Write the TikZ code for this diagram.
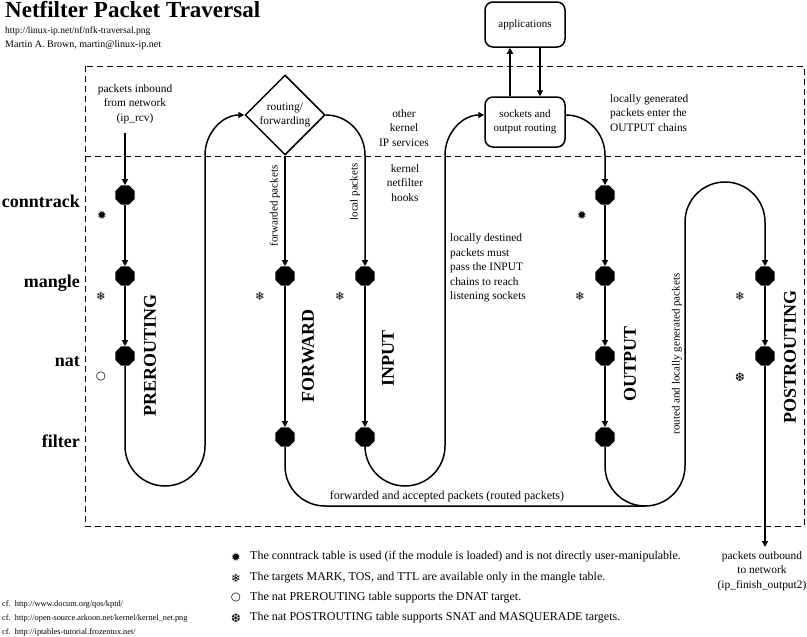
\documentclass[tikz,border=0pt]{standalone}
\usepackage{fontspec}
\setmainfont{Liberation Serif}
\newfontfamily\dingfont{DejaVu Sans}
\usetikzlibrary{shapes.geometric,arrows.meta}

\begin{document}
\begin{tikzpicture}[x=1pt,y=1pt]
    \tikzset{
      hook/.style={regular polygon, regular polygon sides=8, fill=black,
        minimum size=21pt, inner sep=0pt},
      pipe/.style={line width=1.5pt},
      flow/.style={pipe, -{Triangle[length=6pt,width=6pt]}},
      frame/.style={line width=0.9pt, dash pattern=on 6pt off 4pt},
      box/.style={draw, line width=1.5pt, rounded corners=8pt, minimum width=80pt,
        align=center, inner sep=0pt, font=\fontsize{11}{14.5}\selectfont},
      note/.style={align=center, inner sep=0pt, font=\fontsize{11.4}{14.5}\selectfont},
      sidenote/.style={note, align=left, anchor=west},
      tag/.style={rotate=90, inner sep=0pt, font=\fontsize{11}{11}\selectfont},
      chainname/.style={rotate=90, inner sep=0pt, font=\fontsize{18}{18}\selectfont\bfseries},
      tablename/.style={anchor=base east, inner sep=0pt, font=\fontsize{18}{18}\selectfont\bfseries},
      sym/.style={inner sep=0pt, font=\dingfont\fontsize{11.5}{11.5}\selectfont},
      legend/.style={anchor=west, inner sep=0pt, font=\fontsize{12}{12}\selectfont},
      cite/.style={anchor=west, inner sep=0pt, font=\fontsize{8.3}{8.3}\selectfont}
    }
    \useasboundingbox (0,0) rectangle (807,-637);
    %
    % header
    \node[anchor=base west, inner sep=0pt, font=\fontsize{23}{23}\selectfont\bfseries]
      (title) at (5,-17) {Netfilter Packet Traversal};
    \node[anchor=base west, inner sep=0pt, font=\fontsize{9.5}{10}\selectfont]
      (url) at (5,-33) {http://linux-ip.net/nf/nfk-traversal.png};
    \node[anchor=base west, inner sep=0pt, font=\fontsize{10}{10}\selectfont]
      (author) at (5,-47) {Martin A. Brown, martin@linux-ip.net};
    %
    % kernel area
    \draw[frame] (85,-66) rectangle (804,-526);
    \draw[frame] (85,-156) -- (804,-156);
    %
    % table names
    \node[tablename] (t-ct) at (80,-207) {conntrack};
    \node[tablename] (t-mg) at (80,-287) {mangle};
    \node[tablename] (t-nat) at (80,-366) {nat};
    \node[tablename] (t-flt) at (80,-447) {filter};
    %
    % hooks
    \node[hook] (pre-ct) at (125,-195) {};
    \node[hook] (pre-mg) at (125,-276) {};
    \node[hook] (pre-nat) at (125,-356) {};
    \node[hook] (fwd-mg) at (285,-276) {};
    \node[hook] (fwd-flt) at (285,-437) {};
    \node[hook] (in-mg) at (365,-276) {};
    \node[hook] (in-flt) at (365,-437) {};
    \node[hook] (out-ct) at (605,-195) {};
    \node[hook] (out-mg) at (605,-276) {};
    \node[hook] (out-nat) at (605,-356) {};
    \node[hook] (out-flt) at (605,-437) {};
    \node[hook] (post-mg) at (765,-276) {};
    \node[hook] (post-nat) at (765,-356) {};
    %
    % routing decision and sockets
    \node[diamond, draw, line width=1.5pt, minimum width=80pt, minimum height=80pt,
      inner sep=0pt, align=center, font=\fontsize{11.4}{14.5}\selectfont]
      (route) at (285,-115) {routing/\\forwarding};
    \node[box, minimum height=50pt] (sock) at (525,-122) {sockets and\\output routing};
    \node[box, minimum height=45pt] (apps) at (525,-24.5) {applications};
    %
    % chain names
    \node[chainname] (n-pre) at (150,-355) {PREROUTING};
    \node[chainname] (n-fwd) at (308,-356) {FORWARD};
    \node[chainname] (n-in) at (388,-358) {INPUT};
    \node[chainname] (n-out) at (630,-364) {OUTPUT};
    \node[chainname] (n-post) at (790,-357) {POSTROUTING};
    %
    % notes
    \node[note] (inbound) at (135,-104) {packets inbound\\from network\\(ip\_rcv)};
    \node[note] (other) at (404,-128) {other\\kernel\\IP services};
    \node[note] (hooks) at (405,-183) {kernel\\netfilter\\hooks};
    \node[sidenote] (destined) at (450,-268)
      {locally destined\\packets must\\pass the INPUT\\chains to reach\\listening sockets};
    \node[sidenote] (generated) at (610,-113)
      {locally generated\\packets enter the\\OUTPUT chains};
    \node[note, font=\fontsize{12}{12}\selectfont] (routed) at (447,-497)
      {forwarded and accepted packets (routed packets)};
    \node[note] (outbound) at (762,-571) {packets outbound\\to network\\(ip\_finish\_output2)};
    \node[tag] (fwd-tag) at (275,-206) {forwarded packets};
    \node[tag] (loc-tag) at (355,-192) {local packets};
    \node[tag] (gen-tag) at (677,-354) {routed and locally generated packets};
    %
    % table markers
    \node[sym] (s1) at (102,-215) {✹};
    \node[sym] (s2) at (101,-296) {❄};
    \node[sym] (s3) at (101,-377) {○};
    \node[sym] (s4) at (260,-296) {❄};
    \node[sym] (s5) at (340,-296) {❄};
    \node[sym] (s6) at (582,-215) {✹};
    \node[sym] (s7) at (580,-296) {❄};
    \node[sym] (s8) at (740,-296) {❄};
    \node[sym] (s9) at (740,-377) {❆};
    %
    % connectors
    \coordinate (rcv) at (125,-133);
    \coordinate (xmit) at (765,-547);
    \draw[flow] (rcv) -- (pre-ct);
    \draw[flow] (pre-ct) -- (pre-mg);
    \draw[flow] (pre-mg) -- (pre-nat);
    \draw[flow] (pre-nat) -- (125,-446) arc[start angle=180, end angle=360, radius=40]
      -- (205,-155) to[out=90, in=180] (route.west);
    \draw[flow] (route.south) -- (fwd-mg);
    \draw[flow] (fwd-mg) -- (fwd-flt);
    \draw[flow] (route.east) to[out=0, in=90] (365,-155) -- (in-mg);
    \draw[flow] (in-mg) -- (in-flt);
    \draw[flow] (in-flt) -- (365,-446) arc[start angle=180, end angle=360, radius=40]
      -- (445,-155) to[out=90, in=180] ([yshift=7pt]sock.west);
    \draw[flow] ([xshift=-15pt]sock.north) -- ([xshift=-15pt]apps.south);
    \draw[flow] ([xshift=15pt]apps.south) -- ([xshift=15pt]sock.north);
    \draw[flow] ([yshift=7pt]sock.east) to[out=0, in=90] (605,-155) -- (out-ct);
    \draw[flow] (out-ct) -- (out-mg);
    \draw[flow] (out-mg) -- (out-nat);
    \draw[flow] (out-nat) -- (out-flt);
    \draw[pipe] (fwd-flt) -- (285,-466) arc[start angle=180, end angle=270, radius=40]
      -- (645,-506);
    \draw[flow] (out-flt) -- (605,-466) arc[start angle=180, end angle=360, radius=40]
      -- (685,-222) arc[start angle=180, end angle=0, radius=40] -- (post-mg);
    \draw[flow] (post-mg) -- (post-nat);
    \draw[flow] (post-nat) -- (xmit);
    %
    % legend
    \node[sym] (k1) at (236,-557) {✹};
    \node[sym] (k2) at (236,-578) {❄};
    \node[sym] (k3) at (236,-598) {○};
    \node[sym] (k4) at (236,-618) {❆};
    \node[legend] (l1) at (250,-557)
      {The conntrack table is used (if the module is loaded) and is not directly user-manipulable.};
    \node[legend] (l2) at (250,-578) {The targets MARK, TOS, and TTL are available only in the mangle table.};
    \node[legend] (l3) at (250,-598) {The nat PREROUTING table supports the DNAT target.};
    \node[legend] (l4) at (250,-618) {The nat POSTROUTING table supports SNAT and MASQUERADE targets.};
    \node[cite] (c1) at (2,-604) {cf.\ \ http://www.docum.org/qos/kptd/};
    \node[cite] (c2) at (2,-618) {cf.\ \ http://open-source.arkoon.net/kernel/kernel\_net.png};
    \node[cite] (c3) at (2,-632) {cf.\ \ http://iptables-tutorial.frozentux.net/};
\end{tikzpicture}
\end{document}
